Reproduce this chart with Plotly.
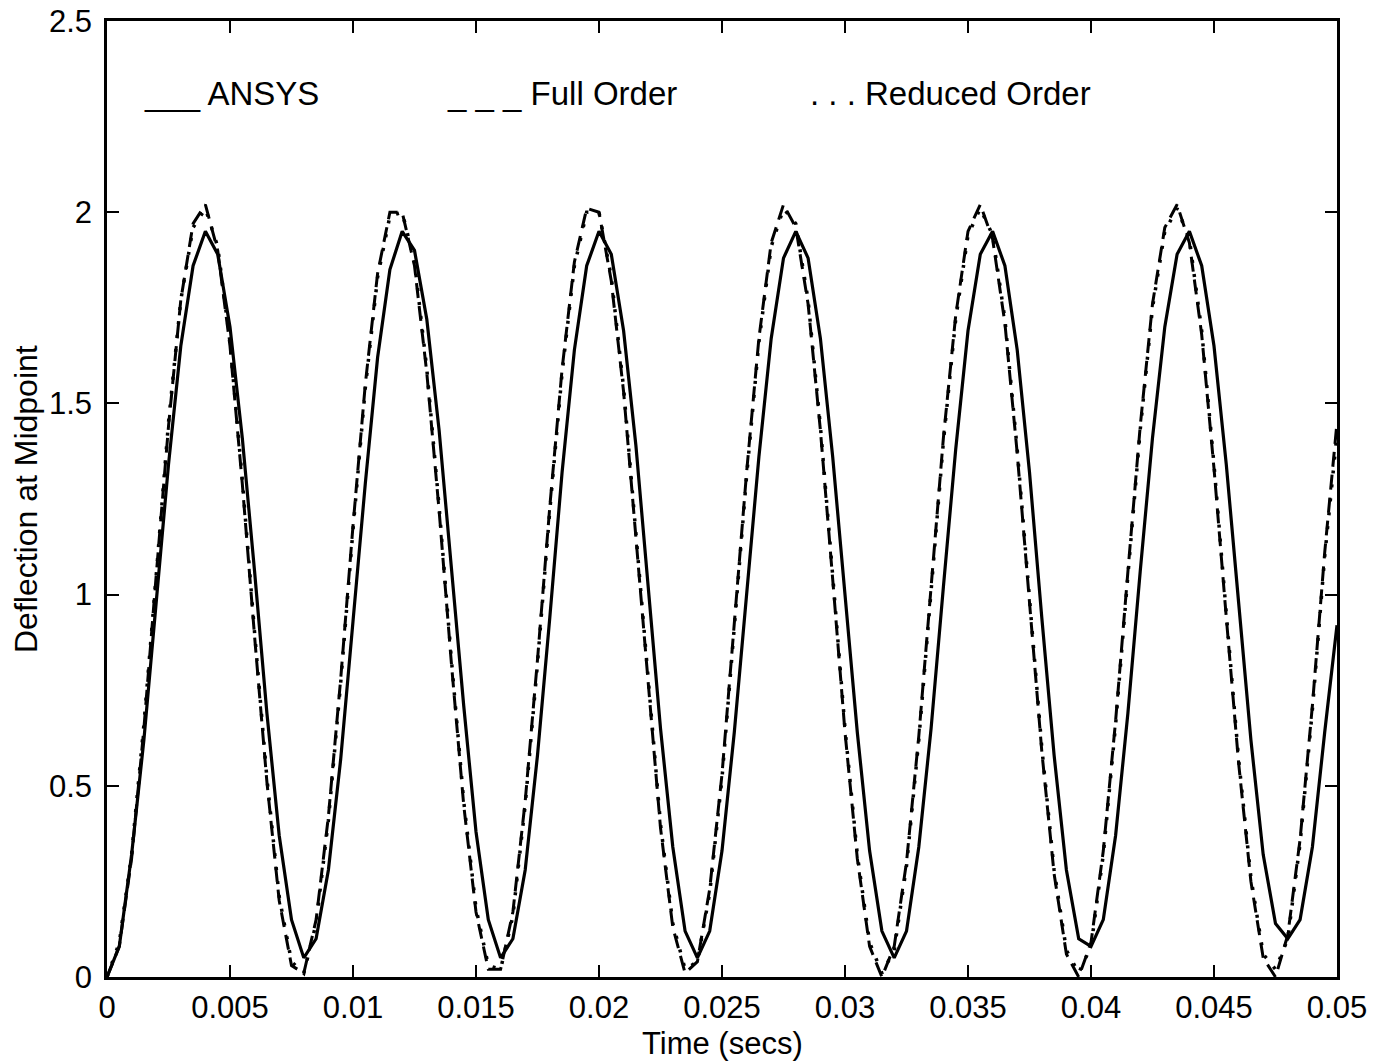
import plotly.graph_objects as go

# sample times (s)
time_s = [round(0.0005 * i, 4) for i in range(101)]

ansys = [
    0.00, 0.08, 0.32, 0.62, 0.98, 1.34, 1.65, 1.86, 1.95, 1.89, 1.70, 1.41, 1.06, 0.69, 0.37, 0.15, 0.05,
    0.10, 0.28, 0.57, 0.93, 1.29, 1.62, 1.85, 1.95, 1.90, 1.72, 1.43, 1.07, 0.71, 0.38, 0.15, 0.05,
    0.10, 0.28, 0.58, 0.94, 1.32, 1.64, 1.86, 1.95, 1.89, 1.69, 1.39, 1.02, 0.65, 0.34, 0.12, 0.05,
    0.12, 0.33, 0.64, 1.00, 1.36, 1.67, 1.88, 1.95, 1.88, 1.67, 1.36, 1.00, 0.64, 0.33, 0.12, 0.05,
    0.12, 0.34, 0.65, 1.02, 1.38, 1.69, 1.89, 1.95, 1.86, 1.64, 1.32, 0.94, 0.58, 0.28, 0.10, 0.08,
    0.15, 0.37, 0.69, 1.06, 1.41, 1.70, 1.89, 1.95, 1.86, 1.65, 1.34, 0.98, 0.62, 0.32, 0.14, 0.10,
    0.15, 0.34, 0.64, 0.92,
]

full_order = [
    0.00, 0.08, 0.31, 0.65, 1.05, 1.44, 1.77, 1.97, 2.02, 1.90, 1.65, 1.29, 0.89, 0.51, 0.20, 0.03, 0.01,
    0.15, 0.42, 0.78, 1.18, 1.55, 1.84, 2.00, 2.00, 1.86, 1.58, 1.22, 0.82, 0.45, 0.17, 0.02, 0.02,
    0.17, 0.46, 0.83, 1.23, 1.59, 1.87, 2.01, 2.00, 1.82, 1.53, 1.15, 0.75, 0.39, 0.13, 0.01, 0.04,
    0.23, 0.53, 0.92, 1.32, 1.67, 1.92, 2.02, 1.96, 1.76, 1.43, 1.04, 0.64, 0.31, 0.08, 0.00, 0.08,
    0.30, 0.63, 1.02, 1.41, 1.73, 1.95, 2.02, 1.93, 1.71, 1.37, 0.98, 0.59, 0.27, 0.06, 0.00, 0.09,
    0.33, 0.67, 1.06, 1.44, 1.76, 1.96, 2.02, 1.92, 1.68, 1.33, 0.94, 0.56, 0.25, 0.05, 0.00, 0.11,
    0.36, 0.71, 1.11, 1.45,
]

reduced_order = [
    0.00, 0.09, 0.32, 0.66, 1.05, 1.45, 1.77, 1.96, 2.01, 1.91, 1.66, 1.30, 0.90, 0.52, 0.21, 0.04, 0.01,
    0.14, 0.41, 0.77, 1.17, 1.54, 1.83, 1.99, 2.00, 1.87, 1.59, 1.23, 0.83, 0.46, 0.18, 0.03, 0.02,
    0.16, 0.45, 0.82, 1.22, 1.58, 1.86, 2.00, 2.00, 1.83, 1.54, 1.16, 0.76, 0.40, 0.14, 0.02, 0.04,
    0.22, 0.52, 0.91, 1.31, 1.66, 1.91, 2.01, 1.97, 1.77, 1.44, 1.05, 0.65, 0.32, 0.09, 0.01, 0.07,
    0.29, 0.62, 1.01, 1.40, 1.72, 1.94, 2.01, 1.94, 1.72, 1.38, 0.99, 0.60, 0.28, 0.07, 0.01, 0.08,
    0.32, 0.66, 1.05, 1.43, 1.75, 1.95, 2.01, 1.93, 1.69, 1.34, 0.95, 0.57, 0.26, 0.06, 0.02, 0.10,
    0.35, 0.70, 1.10, 1.42,
]

x_tick_vals = [0, 0.005, 0.01, 0.015, 0.02, 0.025, 0.03, 0.035, 0.04, 0.045, 0.05]
x_tick_text = ["0", "0.005", "0.01", "0.015", "0.02", "0.025", "0.03", "0.035", "0.04", "0.045", "0.05"]
y_tick_vals = [0, 0.5, 1, 1.5, 2, 2.5]
y_tick_text = ["0", "0.5", "1", "1.5", "2", "2.5"]

legend_labels = ["___ ANSYS", "_ _ _ Full Order", ". . . Reduced Order"]
legend_x = [0.00142, 0.01372, 0.02850]
legend_y = 2.31

FONT = "Liberation Sans, Arial, Helvetica, sans-serif"

fig = go.Figure()
fig.add_trace(go.Scatter(x=time_s, y=ansys, mode="lines", name="ANSYS",
                         line=dict(color="black", width=3.2)))
fig.add_trace(go.Scatter(x=time_s, y=full_order, mode="lines", name="Full Order",
                         line=dict(color="black", width=3, dash="15px,8px")))
fig.add_trace(go.Scatter(x=time_s, y=reduced_order, mode="lines", name="Reduced Order",
                         line=dict(color="black", width=3.5, dash="3px,11px")))

for lbl, lx in zip(legend_labels, legend_x):
    fig.add_annotation(x=lx, y=legend_y, xref="x", yref="y", text=lbl, showarrow=False,
                       xanchor="left", yanchor="middle",
                       font=dict(family=FONT, size=33, color="black"))

# axis titles
fig.add_annotation(x=0.5, y=0, xref="paper", yref="paper", yshift=-47,
                   text="Time (secs)", showarrow=False, xanchor="center", yanchor="top",
                   font=dict(family=FONT, size=31, color="black"))
fig.add_annotation(x=0, y=0.5, xref="paper", yref="paper", xshift=-81,
                   text="Deflection at Midpoint", showarrow=False, textangle=-90,
                   xanchor="center", yanchor="middle",
                   font=dict(family=FONT, size=32, color="black"))

axis_common = dict(showline=True, linecolor="black", linewidth=2.5, mirror="ticks",
                   ticks="inside", ticklen=12, tickwidth=2, tickcolor="black",
                   showgrid=False, zeroline=False, automargin=False,
                   tickfont=dict(family=FONT, size=31, color="black"))

fig.update_layout(
    width=1386, height=1061,
    margin=dict(l=107, r=49, t=21, b=84),
    paper_bgcolor="white", plot_bgcolor="white",
    showlegend=False,
    xaxis=dict(range=[0, 0.05], tickvals=x_tick_vals, ticktext=x_tick_text,
               ticklabelstandoff=1, **axis_common),
    yaxis=dict(range=[0, 2.5], tickvals=y_tick_vals, ticktext=y_tick_text,
               ticklabelstandoff=6, **axis_common),
)

fig.write_html("out.html")
